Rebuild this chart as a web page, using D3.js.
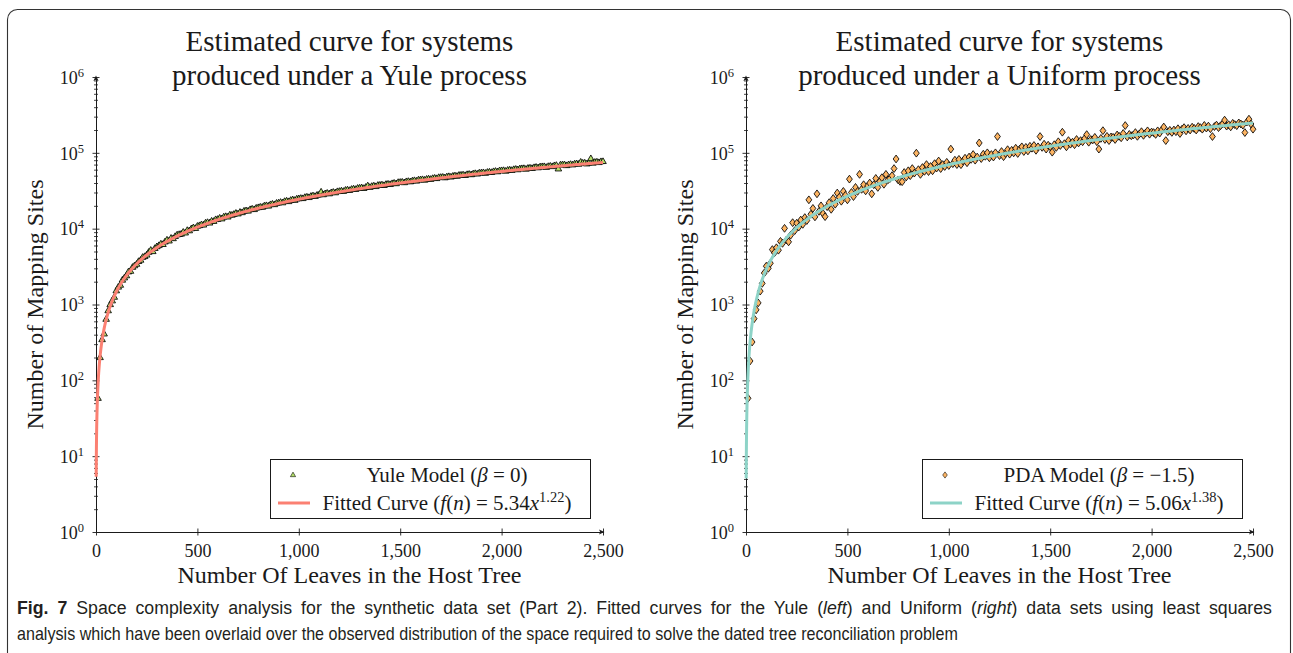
<!DOCTYPE html>
<html>
<head>
<meta charset="utf-8">
<script src="https://cdn.jsdelivr.net/npm/d3@7"></script>
<style>
  html, body { margin: 0; padding: 0; background: #fff; }
  svg { display: block; }
</style>
</head>
<body>
<svg id="fig" width="1293" height="653"></svg>
<script>
// Host-tree sizes at which the number of mapping sites was measured
const leafCounts = d3.range(10, 2501, 10);

// Observed mapping sites, Yule model (beta = 0)
const yuleSites = [
  58, 200, 345, 410, 640, 830, 1000, 1120, 1250, 1520,
  1700, 1800, 2100, 2250, 2400, 2700, 2750, 3100, 3250, 3400,
  3700, 3850, 4200, 4300, 4500, 4900, 5200, 5000, 5500, 5800,
  6000, 6300, 6200, 6700, 7100, 6900, 7500, 7400, 7900, 8300,
  8400, 8500, 9000, 8800, 9500, 9400, 10000, 10300, 10100, 10800,
  11000, 11300, 11200, 11900, 12100, 11900, 12600, 12500, 13200, 13300,
  13800, 13500, 14300, 14500, 14300, 15200, 15100, 15500, 16000, 15700,
  16500, 16300, 17100, 17300, 17100, 17900, 18200, 17900, 18700, 19000,
  19300, 19200, 20000, 20200, 19900, 20800, 21100, 20800, 21700, 21900,
  22300, 22000, 22900, 23200, 22800, 23700, 24100, 23700, 24700, 24900,
  25200, 25000, 25900, 26200, 25800, 26800, 27200, 26700, 27700, 28000,
  30500, 28100, 29000, 29400, 28900, 29900, 30300, 29800, 30900, 31100,
  31500, 31100, 32200, 32500, 32000, 33100, 33500, 33000, 34200, 34400,
  34700, 34000, 35200, 36800, 35100, 36200, 36700, 36000, 37400, 37600,
  37900, 37200, 38500, 38800, 38300, 39400, 39900, 39300, 40800, 41000,
  41200, 40500, 41800, 42100, 41600, 42700, 43200, 42500, 44000, 44200,
  44500, 43700, 45000, 45400, 44800, 46000, 46500, 45900, 47400, 47600,
  47800, 47000, 48400, 48800, 48100, 49400, 49900, 49200, 50800, 51000,
  51300, 50400, 51900, 52300, 51600, 53000, 53500, 52700, 54400, 54600,
  54900, 53900, 55500, 55900, 55200, 56700, 57200, 56400, 58200, 58400,
  58600, 57400, 59100, 59600, 58800, 60400, 60900, 60000, 61800, 62100,
  62300, 61000, 62800, 63200, 62400, 64100, 64700, 63700, 65600, 65900,
  66000, 64500, 66300, 66900, 66000, 67900, 68500, 61500, 69400, 69700,
  69800, 68000, 69800, 70500, 69500, 71500, 72100, 70900, 75500, 73400,
  73600, 71600, 73500, 84000, 73300, 75300, 75900, 74600, 76800, 77000
];

// Observed mapping sites, PDA model (beta = -1.5)
const pdaSites = [
  58, 180, 320, 650, 850, 1050, 1500, 1900, 2600, 3200,
  3000, 3500, 5300, 4800, 5600, 5200, 6800, 6400, 10100, 7100,
  6700, 8200, 12000, 9400, 11800, 10500, 13000, 11400, 14000, 12800,
  24000, 15500, 18500, 14300, 28800, 16900, 20000, 15800, 14400, 19500,
  22000, 18000, 25000, 21000, 29500, 26000, 23000, 31000, 27500, 24000,
  45000, 30000, 26500, 35000, 31000, 52000, 33000, 38000, 31500, 36500,
  40000, 28800, 38000, 46000, 35000, 42000, 47000, 38500, 52000, 44000,
  46000, 50000, 62000, 83000, 44000, 42000, 41600, 55000, 48000, 58000,
  50000, 62000, 54000, 99000, 60000, 52000, 64000, 57000, 70000, 56600,
  66000, 58000, 72000, 63000, 78000, 62000, 70000, 66000, 75000, 68000,
  112000, 72000, 80000, 70000, 82000, 69800, 78000, 85000, 74000, 88000,
  82000, 95000, 80000, 88000, 135000, 84000, 96000, 90000, 100000, 86000,
  95000, 88000, 100000, 164000, 92000, 104000, 89000, 98000, 110000, 96000,
  108000, 100000, 115000, 98000, 112000, 120000, 104000, 118000, 106000, 122000,
  115000, 125000, 108000, 120000, 164000, 118000, 130000, 112000, 126000, 120000,
  102000, 128000, 118000, 140000, 125000, 187000, 132000, 120000, 145000, 130000,
  138000, 128000, 150000, 135000, 145000, 140000, 155000, 174000, 138000, 150000,
  148000, 160000, 140000, 112000, 155000, 196000, 150000, 165000, 145000, 162000,
  160000, 150000, 172000, 165000, 158000, 180000, 229000, 162000, 175000, 168000,
  172000, 185000, 165000, 178000, 190000, 170000, 182000, 195000, 176000, 188000,
  185000, 175000, 195000, 182000, 200000, 219000, 145000, 190000, 198000, 186000,
  200000, 190000, 208000, 180000, 205000, 215000, 195000, 210000, 200000, 218000,
  210000, 200000, 222000, 215000, 205000, 230000, 212000, 225000, 208000, 164000,
  222000, 232000, 215000, 228000, 240000, 270000, 225000, 235000, 220000, 245000,
  236000, 228000, 248000, 240000, 232000, 185000, 255000, 278000, 240000, 205000
];

// Least-squares power-law fits f(n) = a * n^b, as printed in the legends
const yuleFit = [5.34, 1.22];
const pdaFit = [5.06, 1.38];

// Axis ticks
const xTickValues = [0, 500, 1000, 1500, 2000, 2500];
const yTickExponents = [0, 1, 2, 3, 4, 5, 6];

const yuleTitle = ["Estimated curve for systems", "produced under a Yule process"];
const pdaTitle = ["Estimated curve for systems", "produced under a Uniform process"];

const SERIF = "'Liberation Serif', 'Times New Roman', serif";
const INK = "#1a1a1a";

const svg = d3.select("#fig");

// Figure frame with rounded corners
svg.append("rect")
  .attr("x", 7.5).attr("y", 9.5)
  .attr("width", 1283).attr("height", 720)
  .attr("rx", 10).attr("ry", 10)
  .attr("fill", "none").attr("stroke", "#333").attr("stroke-width", 1.1);

const trianglePath = "M0,-3.6 L3.3,2.1 L-3.3,2.1 Z";
const diamondPath = "M0,-3.9 L2.9,0 L0,3.9 L-2.9,0 Z";

// Sample grid used to evaluate the fitted power laws
const fitGrid = d3.range(1, 50, 0.5).concat(d3.range(50, 2501, 10));

function drawPanel(opt) {
  const x = d3.scaleLinear().domain([0, 2500]).range([opt.left, opt.left + 507]);
  const y = d3.scaleLog().domain([1, 1e6]).range([532, 77]);
  const cx = (x.range()[0] + x.range()[1]) / 2;
  const g = svg.append("g");

  // Two-line title
  const title = g.append("text")
    .attr("text-anchor", "middle")
    .attr("font-family", SERIF).attr("font-size", 29).attr("fill", INK);
  title.append("tspan").attr("x", cx).attr("y", 51).text(opt.title[0]);
  title.append("tspan").attr("x", cx).attr("y", 85).text(opt.title[1]);

  // Minor y ticks (2..9 x 10^k)
  const minor = [];
  yTickExponents.slice(0, -1).forEach(k => {
    for (let m = 2; m <= 9; m++) minor.push(m * Math.pow(10, k));
  });
  const yMinor = g.append("g")
    .attr("transform", `translate(${x(0)},0)`)
    .call(d3.axisLeft(y).tickValues(minor).tickSize(2).tickSizeOuter(0).tickFormat(""));
  yMinor.select(".domain").remove();
  yMinor.selectAll(".tick line").attr("x1", 2).attr("x2", -2)
    .attr("stroke", INK).attr("stroke-width", 0.8);

  // Major y axis with 10^k labels
  const yAxis = g.append("g")
    .attr("transform", `translate(${x(0)},0)`)
    .call(d3.axisLeft(y)
      .tickValues(yTickExponents.map(k => Math.pow(10, k)))
      .tickSize(3).tickSizeOuter(0));
  yAxis.select(".domain").attr("stroke", INK).attr("stroke-width", 1);
  yAxis.selectAll(".tick line").attr("x1", 3.5).attr("x2", -3.5)
    .attr("stroke", INK).attr("stroke-width", 0.9);
  yAxis.selectAll(".tick text")
    .attr("font-family", SERIF).attr("font-size", 18).attr("fill", INK)
    .attr("x", -12).attr("dy", "0.35em")
    .each(function (d) {
      const t = d3.select(this);
      t.text(null);
      t.append("tspan").text("10");
      t.append("tspan").attr("dy", -7).attr("font-size", 12.5).text(Math.round(Math.log10(d)));
    });

  // X axis
  const xAxis = g.append("g")
    .attr("transform", `translate(0,${y(1)})`)
    .call(d3.axisBottom(x).tickValues(xTickValues).tickSize(3).tickSizeOuter(0)
      .tickFormat(d3.format(",")));
  xAxis.select(".domain").attr("stroke", INK).attr("stroke-width", 1);
  xAxis.selectAll(".tick line").attr("y1", -3.5).attr("y2", 3.5)
    .attr("stroke", INK).attr("stroke-width", 0.9);
  xAxis.selectAll(".tick text")
    .attr("font-family", SERIF).attr("font-size", 18).attr("fill", INK)
    .attr("y", 12).attr("dy", "0.71em");

  // Arrow heads at the axis ends
  const xe = x(2500), ye = y(1e6);
  g.append("path")
    .attr("d", `M${xe + 1.5},${y(1)} L${xe - 4},${y(1) - 2.6} L${xe - 2.8},${y(1)} L${xe - 4},${y(1) + 2.6} Z`)
    .attr("fill", INK);
  g.append("path")
    .attr("d", `M${x(0)},${ye - 1.5} L${x(0) - 2.6},${ye + 4} L${x(0)},${ye + 2.8} L${x(0) + 2.6},${ye + 4} Z`)
    .attr("fill", INK);

  // Axis titles
  g.append("text")
    .attr("x", cx).attr("y", 583)
    .attr("text-anchor", "middle")
    .attr("font-family", SERIF).attr("font-size", 24).attr("fill", INK)
    .text("Number Of Leaves in the Host Tree");
  g.append("text")
    .attr("transform", `translate(${opt.left - 53},${(y(1) + y(1e6)) / 2}) rotate(-90)`)
    .attr("text-anchor", "middle")
    .attr("font-family", SERIF).attr("font-size", 24).attr("fill", INK)
    .text("Number of Mapping Sites");

  // Observed points
  g.append("g").selectAll("path")
    .data(d3.zip(leafCounts, opt.values))
    .join("path")
    .attr("transform", d => `translate(${x(d[0])},${y(d[1])})`)
    .attr("d", opt.marker)
    .attr("fill", opt.markerFill)
    .attr("stroke", "#000").attr("stroke-width", 0.85);

  // Fitted curve
  const [a, b] = opt.fit;
  g.append("path")
    .datum(fitGrid)
    .attr("d", d3.line().x(n => x(n)).y(n => y(a * Math.pow(n, b))))
    .attr("fill", "none")
    .attr("stroke", opt.lineColor).attr("stroke-width", 3)
    .attr("stroke-linejoin", "round");

  // Legend
  const lg = g.append("g");
  const lx0 = opt.left + opt.legendX;
  lg.append("rect")
    .attr("x", lx0 + 0.5).attr("y", 459.5)
    .attr("width", 320).attr("height", 59)
    .attr("fill", "#fff").attr("stroke", INK).attr("stroke-width", 1);
  lg.append("path")
    .attr("transform", `translate(${lx0 + 23},${475}) scale(0.8)`)
    .attr("d", opt.marker)
    .attr("fill", opt.markerFill).attr("stroke", "#000").attr("stroke-width", 0.7);
  lg.append("line")
    .attr("x1", lx0 + 8).attr("x2", lx0 + 40)
    .attr("y1", 503).attr("y2", 503)
    .attr("stroke", opt.lineColor).attr("stroke-width", 3);

  const tcx = lx0 + 177;
  const r1 = lg.append("text")
    .attr("x", tcx).attr("y", 482).attr("text-anchor", "middle")
    .attr("font-family", SERIF).attr("font-size", 21).attr("fill", INK);
  r1.append("tspan").text(opt.modelName + " (");
  r1.append("tspan").attr("font-style", "italic").text("β");
  r1.append("tspan").text(" = " + opt.beta + ")");

  const r2 = lg.append("text")
    .attr("x", tcx).attr("y", 510).attr("text-anchor", "middle")
    .attr("font-family", SERIF).attr("font-size", 21).attr("fill", INK);
  r2.append("tspan").text("Fitted Curve (");
  r2.append("tspan").attr("font-style", "italic").text("f");
  r2.append("tspan").text("(");
  r2.append("tspan").attr("font-style", "italic").text("n");
  r2.append("tspan").text(") = " + a.toFixed(2));
  r2.append("tspan").attr("font-style", "italic").text("x");
  r2.append("tspan").attr("dy", -8).attr("font-size", 14.5).text(b.toFixed(2));
  r2.append("tspan").attr("dy", 8).text(")");
}

drawPanel({
  left: 96, legendX: 174, title: yuleTitle, values: yuleSites, fit: yuleFit,
  marker: trianglePath, markerFill: "#b3de69", lineColor: "#fb8072",
  modelName: "Yule Model", beta: "0"
});
drawPanel({
  left: 746, legendX: 176, title: pdaTitle, values: pdaSites, fit: pdaFit,
  marker: diamondPath, markerFill: "#fdb462", lineColor: "#8dd3c7",
  modelName: "PDA Model", beta: "\u22121.5"
});

// Figure caption: justified paragraph in a condensed sans face.
// The last line is squeezed to its width; the first line uses a squeeze halfway
// between that and its own fit, with word spaces taking up the remainder.
const CAP = "'Liberation Sans Narrow', 'Liberation Sans', Arial, sans-serif";
const capLine1 = [
  ["bold", "Fig. 7"],
  ["normal", "  Space complexity analysis for the synthetic data set (Part 2). Fitted curves for the Yule ("],
  ["italic", "left"],
  ["normal", ") and Uniform ("],
  ["italic", "right"],
  ["normal", ") data sets using least squares"]
];
const capLine2 = "analysis which have been overlaid over the observed distribution of the space required to solve the dated tree reconciliation problem";

function captionText(holder, parts) {
  const t = holder.append("text")
    .attr("x", 0).attr("y", 0)
    .attr("font-family", CAP).attr("font-size", 19).attr("fill", "#231f20");
  parts.forEach(([style, str]) => {
    const s = t.append("tspan").text(str);
    if (style === "bold") s.attr("font-weight", "bold");
    if (style === "italic") s.attr("font-style", "italic");
  });
  return t;
}
const cap2 = svg.append("g");
const t2 = captionText(cap2, [["normal", capLine2]]);
const squeeze2 = 941 / t2.node().getComputedTextLength();
cap2.attr("transform", `translate(17,640) scale(${squeeze2},1)`);

const cap1 = svg.append("g");
const t1 = captionText(cap1, capLine1);
const natural1 = t1.node().getComputedTextLength();
const squeeze1 = (squeeze2 + 1260 / natural1) / 2;
cap1.attr("transform", `translate(17,614) scale(${squeeze1},1)`);
const spaces = capLine1.map(p => p[1]).join("").split(" ").length - 1;
t1.attr("word-spacing", (1260 / squeeze1 - natural1) / spaces);
</script>
</body>
</html>
